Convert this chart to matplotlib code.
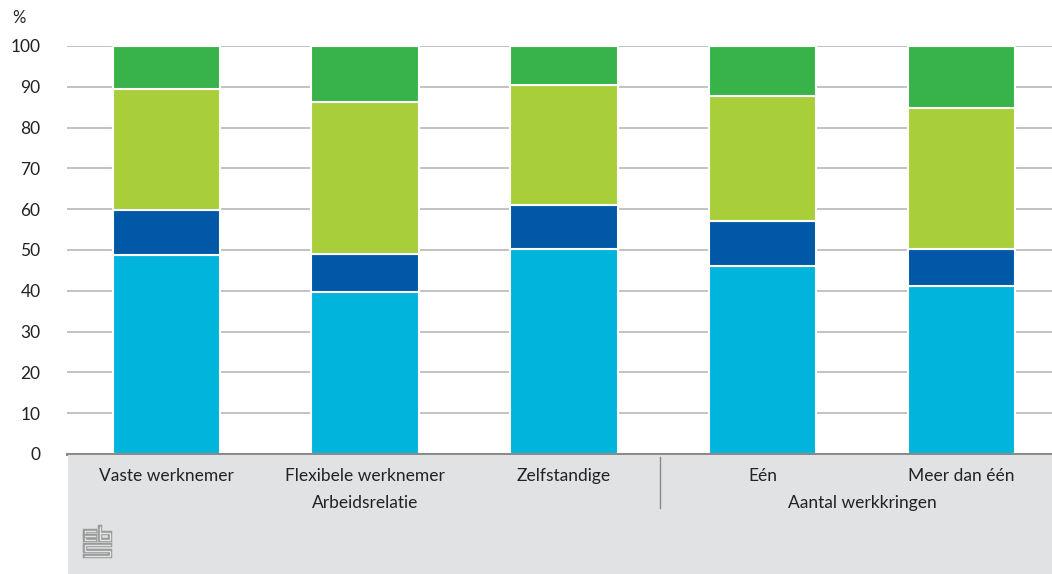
import matplotlib.pyplot as plt
from matplotlib.patches import Rectangle
from matplotlib.lines import Line2D

plt.rcParams['font.family'] = ['Lato', 'DejaVu Sans']

# Data (percentages, bottom to top)
categories = ['Vaste werknemer', 'Flexibele werknemer', 'Zelfstandige', 'Eén', 'Meer dan één']
group_labels = ['Arbeidsrelatie', 'Aantal werkkringen']
seg1 = [48.8, 39.7, 50.2, 46.1, 41.2]   # cyan
seg2 = [11.0, 9.3, 10.8, 11.0, 9.0]     # dark blue
seg3 = [29.7, 37.3, 29.4, 30.6, 34.6]   # yellow-green
seg4 = [10.5, 13.7, 9.6, 12.3, 15.2]    # green
yticks = [0, 10, 20, 30, 40, 50, 60, 70, 80, 90, 100]

colors = ['#00b4dc', '#0058a7', '#a8cf3a', '#37b34a']
band_col = '#e1e2e4'

W, H = 1052, 574
L, STEP = 67, 198.75          # axes left edge and category width in px
fig = plt.figure(figsize=(W / 100, H / 100), dpi=100)
ax = fig.add_axes([L / W, (H - 454) / H, 5 * STEP / W, 408 / H])

x = list(range(len(categories)))
bottom = [0] * len(categories)
for seg, col in zip([seg1, seg2, seg3, seg4], colors):
    ax.bar(x, seg, bottom=bottom, width=0.54, color=col, edgecolor='white',
           linewidth=1.5, zorder=3)
    bottom = [b + s for b, s in zip(bottom, seg)]

ax.set_xlim(-0.5, len(categories) - 0.5)
ax.set_ylim(0, 100)
ax.set_yticks(yticks)
ax.tick_params(axis='y', length=0, pad=19, labelsize=12.5, labelcolor='#222222')
ax.set_xticks([])
ax.yaxis.grid(True, color='#bdbdbd', linewidth=1.3, zorder=0)
ax.set_axisbelow(True)
for s in ['top', 'right', 'left']:
    ax.spines[s].set_visible(False)
ax.spines['bottom'].set_color('#8a8a8a')
ax.spines['bottom'].set_linewidth(2.2)
ax.spines['bottom'].set_zorder(5)

fig.text(12 / W, 1 - 18 / H, '%', fontsize=12, color='#222222', va='center', ha='left')

# grey band below the chart
band = Rectangle((68 / W, 0), 984 / W, (H - 455) / H, transform=fig.transFigure,
                 facecolor=band_col, edgecolor='none', zorder=0)
fig.patches.append(band)

# category labels
for i, c in enumerate(categories):
    xf = (L + (i + 0.5) * STEP) / W
    fig.text(xf, 1 - 476 / H, c, ha='center', va='center', fontsize=12.5, color='#222222')

# group labels
group_centers = [1, 3.5]
for gc, gl in zip(group_centers, group_labels):
    xf = (L + (gc + 0.5) * STEP) / W
    fig.text(xf, 1 - 503 / H, gl, ha='center', va='center', fontsize=12.5, color='#222222')

# separator between groups
sx = 660 / W
fig.lines.append(Line2D([sx, sx], [1 - 457 / H, 1 - 508 / H], transform=fig.transFigure,
                        color='#8a8a8a', linewidth=1))

# rough cbs logo (double outline)
def px(xp, yp):
    return xp / W, 1 - yp / H
logo = [
    [(95, 531), (85, 531), (85, 540), (95, 540)],
    [(85, 535.5), (95, 535.5)],
    [(100, 527), (100, 540), (110, 540), (110, 533), (100, 533)],
    [(110, 545), (85, 545), (85, 550.5), (110, 550.5), (110, 556), (85, 556)],
]
for seg in logo:
    xs = [px(a, b)[0] for a, b in seg]
    ys = [px(a, b)[1] for a, b in seg]
    fig.lines.append(Line2D(xs, ys, transform=fig.transFigure, color='#9a9a9a',
                            linewidth=3.2, solid_capstyle='projecting', solid_joinstyle='miter'))
    fig.lines.append(Line2D(xs, ys, transform=fig.transFigure, color=band_col,
                            linewidth=1.0, solid_capstyle='projecting', solid_joinstyle='miter'))

fig.savefig('out.png', dpi=100)
